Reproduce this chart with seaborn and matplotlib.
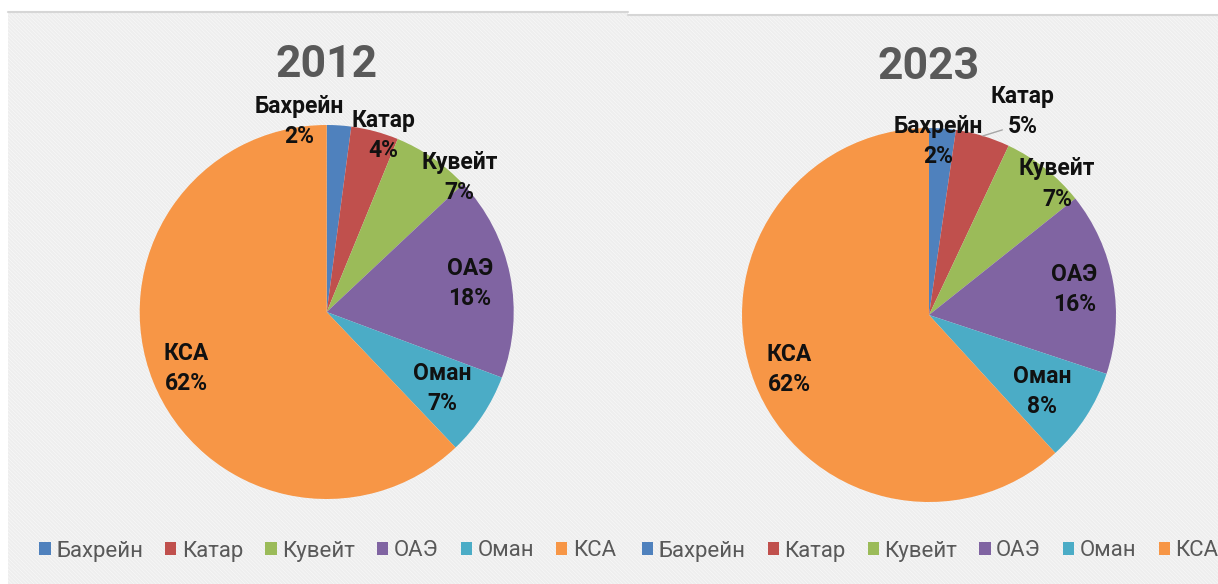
import numpy as np
import seaborn as sns
import matplotlib.pyplot as plt
from matplotlib.patches import Rectangle

# ===============================
# DATA
# ===============================
countries = ["Бахрейн", "Катар", "Кувейт", "ОАЭ", "Оман", "КСА"]
share_2012 = [2.1, 4.1, 6.8, 17.7, 7.2, 62.1]
share_2023 = [2.3, 4.7, 7.3, 15.8, 8.1, 61.8]
years = ["2012", "2023"]

colors = sns.color_palette(["#4F81BD", "#C0504D", "#9BBB59", "#8064A2", "#4BACC6", "#F79646"])

# label placement (distance from centre in radii, clockwise shift in degrees)
label_dist = {"2012": [1.03, 0.99, 1.01, 0.78, 0.74, 0.81],
              "2023": [0.93, 1.20, 0.98, 0.79, 0.73, 0.80]}
label_shift = {"2012": [-12, 3, 10, 0, 0, 0],
               "2023": [-1, 8, 6, 0, 1, 0]}

# ===============================
# FIGURE
# ===============================
sns.set_theme(style="white")
plt.rcParams["font.family"] = ["Roboto", "DejaVu Sans"]
plt.rcParams["hatch.linewidth"] = 1.5

W, H = 1218, 584
fig = plt.figure(figsize=(W / 100, H / 100), dpi=100)
fig.patch.set_facecolor("white")


def fx(x):
    return x / W


def fy(y):
    return 1 - y / H


# striped panel backgrounds (two screenshots side by side)
for x0, x1, y0 in [(8, 628, 12), (628, 1218, 15)]:
    fig.patches.append(Rectangle((fx(x0), 0), fx(x1) - fx(x0), fy(y0),
                                 transform=fig.transFigure, facecolor="#fafafa",
                                 edgecolor="#eeeeee", hatch="\\" * 9, lw=0, zorder=-2))
    fig.lines.append(plt.Line2D([fx(x0), fx(x1)], [fy(y0), fy(y0)], transform=fig.transFigure,
                                color="#d6d6d6", lw=1.5, zorder=-1))

panels = [("2012", share_2012, 326.7, 312, 65),
          ("2023", share_2023, 929, 315, 67)]
r = 187

for year, shares, cx, cy, ty in panels:
    ax = fig.add_axes([fx(cx - r), fy(cy + r), 2 * r / W, 2 * r / H])
    wedges, _ = ax.pie(shares, colors=colors, startangle=90, counterclock=False,
                       radius=1, wedgeprops=dict(linewidth=0))
    ax.set_xlim(-1, 1)
    ax.set_ylim(-1, 1)
    ax.axis("off")

    for i, w in enumerate(wedges):
        mid = np.deg2rad((w.theta1 + w.theta2) / 2 - label_shift[year][i])
        d = label_dist[year][i]
        tx, tyy = d * np.cos(mid), d * np.sin(mid)
        ax.text(tx, tyy, f"{countries[i]}\n{round(shares[i])}%", ha="center", va="center",
                fontsize=16.5, fontweight="bold", color="#111111", linespacing=1.4, clip_on=False)
        if d > 1.1:
            m0 = np.deg2rad((w.theta1 + w.theta2) / 2)
            ax.plot([np.cos(m0), tx - 0.11], [np.sin(m0), tyy - 0.10],
                    color="#a6a6a6", lw=1, clip_on=False)

    fig.text(fx(cx), fy(ty), year, ha="center", va="center", fontsize=32,
             fontweight="bold", color="#595959")

    fig.legend(wedges, countries, loc="center", bbox_to_anchor=(fx(cx + 1), fy(551)),
               ncol=6, frameon=False, fontsize=16, labelcolor="#595959",
               handlelength=0.5, handleheight=0.5, handletextpad=0.25,
               columnspacing=1.0, borderaxespad=0)

fig.savefig("out.png", dpi=100)
